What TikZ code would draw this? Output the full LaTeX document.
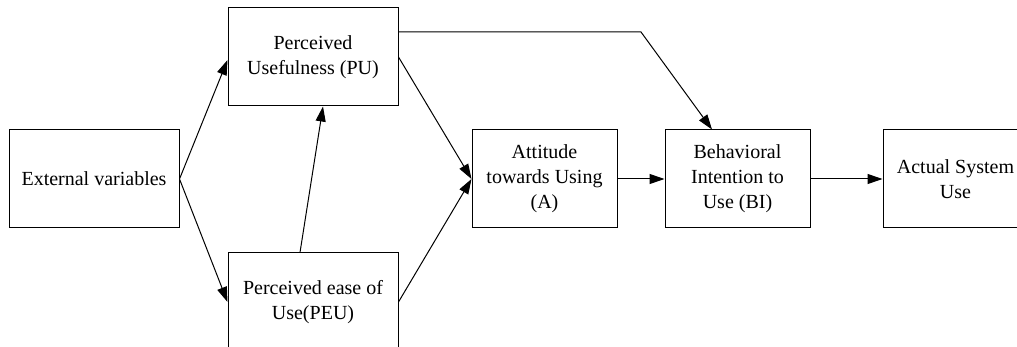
\documentclass[tikz,border=0pt]{standalone}
\usepackage{fontspec}
\setmainfont{Liberation Serif}
\newfontfamily\timesfont{Liberation Serif}
\usetikzlibrary{arrows.meta}
\begin{document}
\begin{tikzpicture}[x=1pt,y=-1pt,
  box/.style={draw=black,line width=1pt,inner sep=0pt,align=center,
    font=\timesfont\fontsize{20}{25}\selectfont,minimum height=98pt},
  wide/.style={box,minimum width=170pt},
  narrow/.style={box,minimum width=145pt},
  conn/.style={line width=1pt,-{Triangle[length=15pt,width=10pt]}}]
\useasboundingbox (0,0) rectangle (1017,347);
\node[wide] (ext) at (94,179) {External variables};
\node[wide] (pu) at (313,57) {Perceived\\Usefulness (PU)};
\node[wide] (peu) at (313,302) {Perceived ease of\\Use(PEU)};
\node[narrow] (att) at (544.5,179) {Attitude\\towards Using\\(A)};
\node[narrow] (bi) at (737.5,179) {Behavioral\\Intention to\\Use (BI)};
\node[narrow] (act) at (955.5,179) {Actual System\\Use};
\coordinate (bend) at (641,32);
\draw[conn] (ext.east) -- ([yshift=-3pt]pu.west);
\draw[conn] (ext.east) -- (peu.west);
\draw[conn] ([xshift=-13pt]peu.north) -- ([xshift=10pt]pu.south);
\draw[conn] (pu.east) -- (att.west);
\draw[conn] (peu.east) -- (att.west);
\draw[conn] ([yshift=25pt]pu.east) -- (bend) -- ([xshift=-25.5pt]bi.north);
\draw[conn] (att.east) -- (bi.west);
\draw[conn] (bi.east) -- (act.west);
\end{tikzpicture}
\end{document}
